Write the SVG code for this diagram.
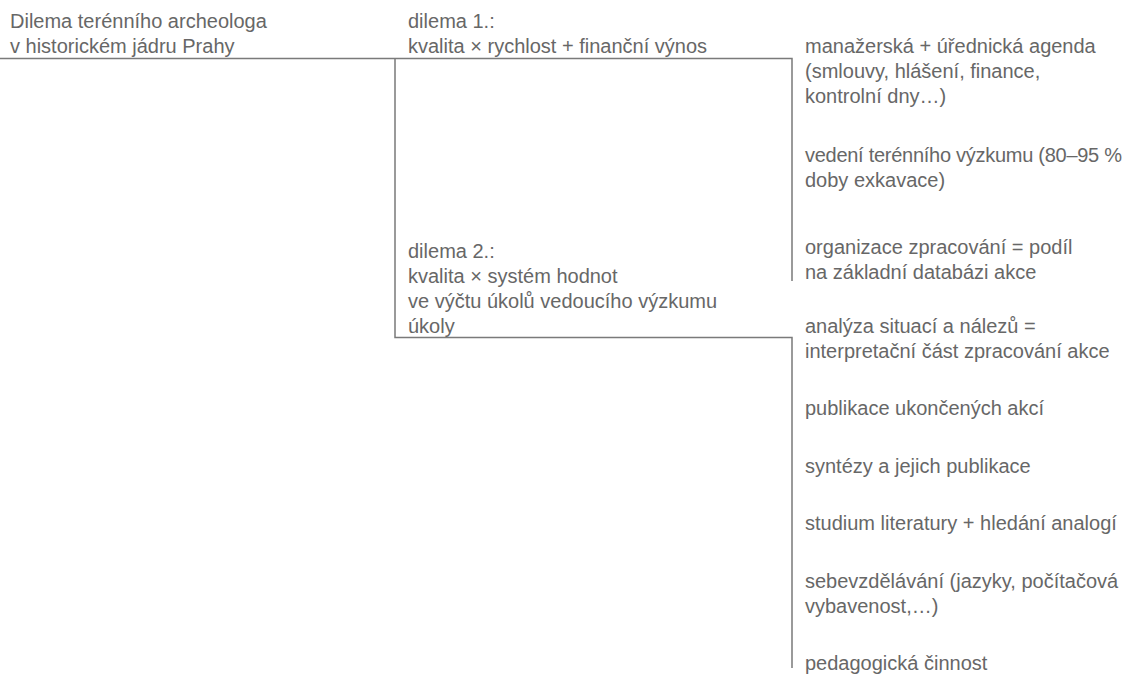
<svg xmlns="http://www.w3.org/2000/svg" width="1127" height="677" viewBox="0 0 1127 677">
<style>
text{font-family:"Liberation Sans",Arial,sans-serif;font-size:20px;fill:#676767}
.c{fill:none;stroke:#7a7a7a;stroke-width:1.5}
</style>
<rect width="1127" height="677" fill="#fff"/>
<g id="connectors">
<path class="c" d="M0 58.5H395"/>
<path class="c" d="M395 58.5H792V281"/>
<path class="c" d="M395 58.5V337.5H792V668"/>
</g>
<g id="title"><text x="10" y="28">Dilema terénního archeologa</text><text x="10" y="53">v historickém jádru Prahy</text></g>
<g id="dilema1"><text x="408" y="28">dilema 1.:</text><text x="408" y="53">kvalita × rychlost + finanční výnos</text></g>
<g id="dilema2"><text x="408" y="258">dilema 2.:</text><text x="408" y="283">kvalita × systém hodnot</text><text x="408" y="308">ve výčtu úkolů vedoucího výzkumu</text><text x="408" y="333">úkoly</text></g>
<g id="n1"><text x="805" y="53">manažerská + úřednická agenda</text><text x="805" y="78">(smlouvy, hlášení, finance,</text><text x="805" y="103">kontrolní dny…)</text></g>
<g id="n2"><text x="805" y="162" textLength="317" lengthAdjust="spacing">vedení terénního výzkumu (80–95 %</text><text x="805" y="187">doby exkavace)</text></g>
<g id="n3"><text x="805" y="254">organizace zpracování = podíl</text><text x="805" y="279">na základní databázi akce</text></g>
<g id="n4"><text x="805" y="333">analýza situací a nálezů =</text><text x="805" y="358">interpretační část zpracování akce</text></g>
<g id="n5"><text x="805" y="415">publikace ukončených akcí</text></g>
<g id="n6"><text x="805" y="473">syntézy a jejich publikace</text></g>
<g id="n7"><text x="805" y="530">studium literatury + hledání analogí</text></g>
<g id="n8"><text x="805" y="588">sebevzdělávání (jazyky, počítačová</text><text x="805" y="613">vybavenost,…)</text></g>
<g id="n9"><text x="805" y="670">pedagogická činnost</text></g>
</svg>
